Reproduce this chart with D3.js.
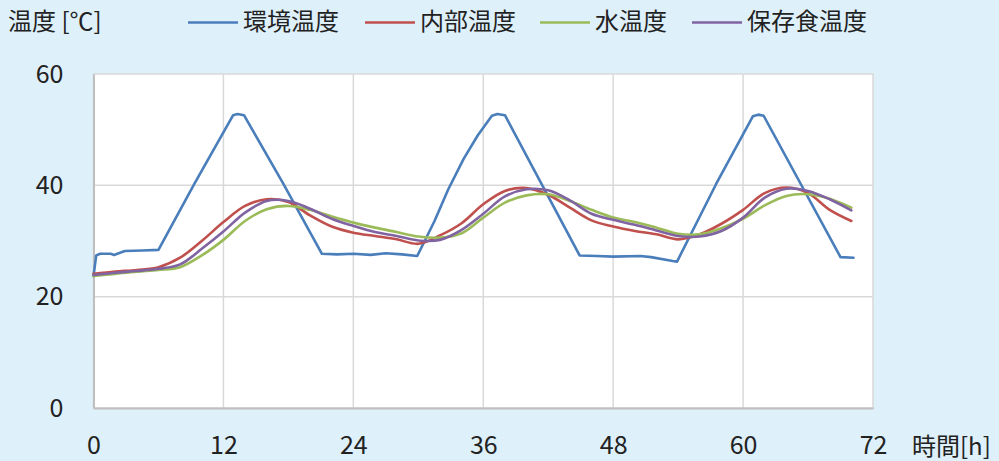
<!DOCTYPE html>
<html>
<head>
<meta charset="utf-8">
<script src="https://cdn.jsdelivr.net/npm/d3@7"></script>
<style>
  html, body { margin: 0; padding: 0; background: #def0fa; }
  svg { display: block; }
  text { font-family: "Noto Sans CJK JP", "Noto Sans", sans-serif; fill: #222; }
</style>
</head>
<body>
<svg id="chart" width="999" height="461"></svg>
<script>
// ---- data ----
const xTicks = [0, 12, 24, 36, 48, 60, 72];
const yTicks = [0, 20, 40, 60];

const envHours = [0, 0.25, 0.6, 1.6, 1.9, 2.9, 4.5, 6.0, 9.3, 12.9, 13.3, 13.9, 17.5, 21.1, 22.5, 24, 25.6, 27, 28.5, 29.9, 31.5, 32.75, 34.2, 35.5, 36.8, 37.3, 38.0, 44.9, 46.5, 48, 50.5, 51.5, 53.5, 53.9, 57.5, 60.9, 61.4, 61.9, 69.0, 70.2];
const envTemp  = [23.7, 27.4, 27.7, 27.7, 27.5, 28.2, 28.3, 28.4, 40.2, 52.6, 52.8, 52.6, 40.4, 27.7, 27.6, 27.7, 27.5, 27.8, 27.6, 27.3, 33.6, 39.2, 44.8, 49.0, 52.5, 52.8, 52.6, 27.4, 27.3, 27.2, 27.3, 27.1, 26.4, 26.3, 40.2, 52.4, 52.7, 52.5, 27.1, 27.0];

const hours = [0, 2, 4, 6, 8, 10, 12, 14, 16, 18, 20, 22, 24, 26, 28, 30, 32, 34, 36, 38, 40, 42, 44, 46, 48, 50, 52, 54, 56, 58, 60, 62, 64, 66, 68, 70];
const innerTemp = [24.1, 24.5, 24.8, 25.3, 27.0, 30.0, 33.4, 36.3, 37.5, 37.0, 34.6, 32.6, 31.5, 30.9, 30.3, 29.5, 31.0, 33.2, 36.6, 39.0, 39.5, 38.3, 36.0, 33.7, 32.6, 31.8, 31.2, 30.3, 31.2, 33.1, 35.6, 38.6, 39.6, 38.6, 35.6, 33.6];
const waterTemp = [23.7, 24.1, 24.5, 24.8, 25.3, 27.4, 30.2, 33.6, 35.7, 36.3, 35.6, 34.4, 33.3, 32.4, 31.6, 30.8, 30.6, 31.4, 34.2, 36.9, 38.2, 38.4, 37.2, 35.6, 34.2, 33.4, 32.4, 31.3, 31.2, 32.3, 34.0, 36.4, 38.1, 38.4, 37.6, 36.0];
const foodTemp  = [23.9, 24.3, 24.6, 25.0, 25.8, 28.6, 31.7, 35.1, 37.2, 37.2, 35.8, 34.0, 32.7, 31.6, 30.9, 30.1, 30.2, 32.0, 34.9, 38.0, 39.3, 39.1, 37.3, 34.9, 33.8, 32.9, 31.9, 30.9, 30.8, 31.8, 34.2, 37.8, 39.4, 39.0, 37.5, 35.5];

const seriesNames  = ["環境温度", "内部温度", "水温度", "保存食温度"];
const seriesColors = ["#4a7ebb", "#c0504d", "#9bbb59", "#8064a2"];

// ---- layout ----
const svg = d3.select("#chart");
const x = d3.scaleLinear().domain([0, 72]).range([93.5, 873]);
const y = d3.scaleLinear().domain([0, 60]).range([408, 74]);

// plot background
svg.append("rect")
  .attr("x", x(0)).attr("y", y(60))
  .attr("width", x(72) - x(0)).attr("height", y(0) - y(60))
  .attr("fill", "#ffffff")
  .attr("stroke", "#d9d9d9").attr("stroke-width", 1.5);

// gridlines
svg.append("g").selectAll("line").data(xTicks.filter(d => d > 0 && d < 72)).join("line")
  .attr("x1", d => x(d)).attr("x2", d => x(d))
  .attr("y1", y(60)).attr("y2", y(0))
  .attr("stroke", "#d9d9d9").attr("stroke-width", 1.5);
svg.append("g").selectAll("line").data(yTicks.filter(d => d > 0 && d < 60)).join("line")
  .attr("x1", x(0)).attr("x2", x(72))
  .attr("y1", d => y(d)).attr("y2", d => y(d))
  .attr("stroke", "#d9d9d9").attr("stroke-width", 1.5);

// axes (left & bottom borders)
const xAxis = svg.append("g").attr("transform", `translate(0,${y(0)})`)
  .call(d3.axisBottom(x).tickValues(xTicks).tickSize(0).tickFormat(d3.format("d")));
xAxis.select(".domain").attr("stroke", "#bfbfbf").attr("stroke-width", 2);
xAxis.selectAll("text").attr("y", 46).attr("dy", 0)
  .style("font-size", "25px").style("font-family", '"Noto Sans CJK JP", "Noto Sans", sans-serif').attr("fill", "#222");

const yAxis = svg.append("g").attr("transform", `translate(${x(0)},0)`)
  .call(d3.axisLeft(y).tickValues(yTicks).tickSize(0).tickFormat(d3.format("d")));
yAxis.select(".domain").attr("stroke", "#bfbfbf").attr("stroke-width", 2);
yAxis.selectAll("text").attr("x", -30).attr("dy", 0).attr("y", 8)
  .style("font-size", "25px").style("font-family", '"Noto Sans CJK JP", "Noto Sans", sans-serif').attr("fill", "#222");

// series lines
const envLine = d3.line().x((d, i) => x(envHours[i])).y(d => y(d)).curve(d3.curveLinear);
const smoothLine = d3.line().x((d, i) => x(hours[i])).y(d => y(d)).curve(d3.curveCatmullRom.alpha(0.5));

const lineData = [
  { values: envTemp, gen: envLine, color: seriesColors[0] },
  { values: innerTemp, gen: smoothLine, color: seriesColors[1] },
  { values: waterTemp, gen: smoothLine, color: seriesColors[2] },
  { values: foodTemp, gen: smoothLine, color: seriesColors[3] }
];
svg.append("g").selectAll("path").data(lineData).join("path")
  .attr("d", d => d.gen(d.values))
  .attr("fill", "none")
  .attr("stroke", d => d.color)
  .attr("stroke-width", 2.6)
  .attr("stroke-linejoin", "round")
  .attr("stroke-linecap", "round");

// titles
svg.append("text").attr("x", 8).attr("y", 30)
  .style("font-size", "24px").text("温度 [℃]");
svg.append("text").attr("x", 912).attr("y", 455)
  .style("font-size", "24px").text("時間[h]");

// legend
const legendX = [188, 365, 540, 692];
const legend = svg.append("g").selectAll("g").data(seriesNames).join("g")
  .attr("transform", (d, i) => `translate(${legendX[i]},0)`);
legend.append("line")
  .attr("x1", 0).attr("x2", 50).attr("y1", 22.5).attr("y2", 22.5)
  .attr("stroke", (d, i) => seriesColors[i]).attr("stroke-width", 2.6);
legend.append("text").attr("x", 55).attr("y", 30)
  .style("font-size", "24px").text(d => d);
</script>
</body>
</html>
